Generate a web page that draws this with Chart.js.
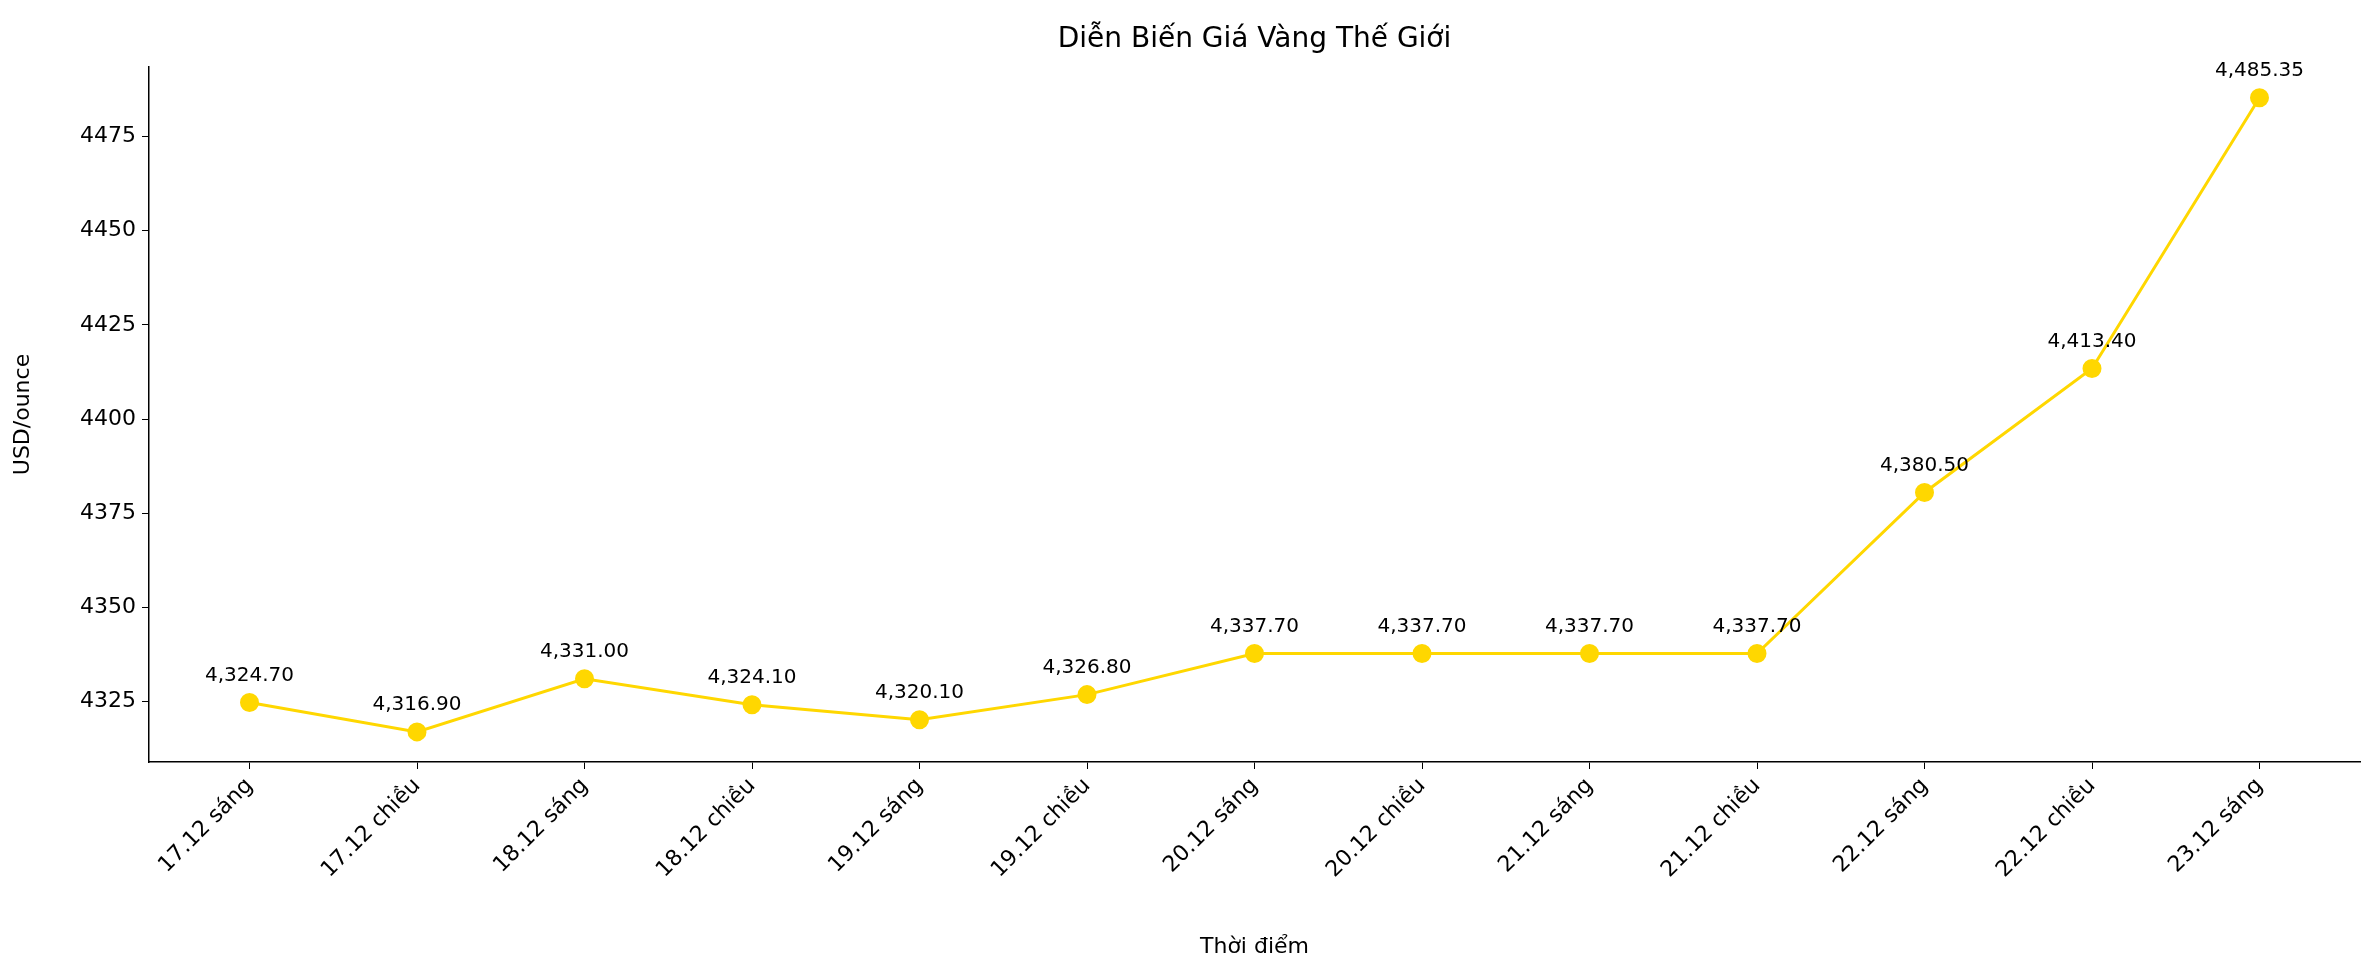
<!DOCTYPE html>
<html><head><meta charset="utf-8">
<script src="https://cdn.jsdelivr.net/npm/chart.js@4.4.0/dist/chart.umd.min.js"></script>
<style>html,body{margin:0;padding:0;background:#fff}#c{display:block}</style>
</head><body>
<canvas id="c" width="2380" height="978"></canvas>
<script>
const categories = ["17.12 sáng","17.12 chiều","18.12 sáng","18.12 chiều","19.12 sáng","19.12 chiều","20.12 sáng","20.12 chiều","21.12 sáng","21.12 chiều","22.12 sáng","22.12 chiều","23.12 sáng"];
const prices = [4324.70,4316.90,4331.00,4324.10,4320.10,4326.80,4337.70,4337.70,4337.70,4337.70,4380.50,4413.40,4485.35];
const yTicks = [4325,4350,4375,4400,4425,4450,4475];
const titleText = "Diễn Biến Giá Vàng Thế Giới";
const FONT = "'DejaVu Sans', sans-serif";

const labelPlugin = {
  id:'lbl',
  afterDatasetsDraw(chart){
    const ctx = chart.ctx, meta = chart.getDatasetMeta(0);
    ctx.save();
    ctx.font = "20px " + FONT; ctx.fillStyle = "#000";
    ctx.textAlign = "center"; ctx.textBaseline = "bottom";
    meta.data.forEach((p,i)=>{
      ctx.fillText(prices[i].toLocaleString('en-US',{minimumFractionDigits:2,maximumFractionDigits:2}), p.x, p.y-17);
    });
    ctx.font = "28px " + FONT; ctx.textBaseline = "middle";
    const a = chart.chartArea;
    ctx.fillText(titleText, (a.left+a.right)/2, 40);
    ctx.restore();
  }
};

new Chart(document.getElementById('c'), {
  type:'line',
  data:{datasets:[{
    data: prices.map((v,i)=>({x:i,y:v})),
    borderColor:'#FFD700', backgroundColor:'#FFD700',
    borderWidth:3, pointRadius:8, pointHoverRadius:8, tension:0
  }]},
  options:{
    responsive:false, animation:false, devicePixelRatio:1,
    layout:{padding:{top:67,right:20,left:0,bottom:0}},
    plugins:{legend:{display:false},tooltip:{enabled:false}},
    scales:{
      x:{type:'linear', min:-0.6, max:12.6,
        afterBuildTicks(s){s.ticks = categories.map((c,i)=>({value:i}));},
        afterFit(s){s.height = 216;},
        ticks:{callback:(v)=>categories[v], minRotation:45, maxRotation:45, color:'#000', font:{size:22,family:FONT}, padding:4},
        grid:{drawOnChartArea:false, drawTicks:true, tickLength:7, color:'#000'},
        border:{color:'#000', width:1.5},
        title:{display:true, text:'Thời điểm', color:'#000', font:{size:22,family:FONT}, padding:{top:0,bottom:18}}
      },
      y:{min:4308.9, max:4493.5,
        afterBuildTicks(s){s.ticks = yTicks.map(v=>({value:v}));},
        afterFit(s){s.width = 149;},
        ticks:{color:'#000', font:{size:22,family:FONT}, padding:6, callback:(v)=>String(v)},
        grid:{drawOnChartArea:false, drawTicks:true, tickLength:7, color:'#000'},
        border:{color:'#000', width:1.5},
        title:{display:true, text:'USD/ounce', color:'#000', font:{size:22,family:FONT}, padding:{top:10,bottom:6}}
      }
    }
  },
  plugins:[labelPlugin]
});
</script>
</body></html>
